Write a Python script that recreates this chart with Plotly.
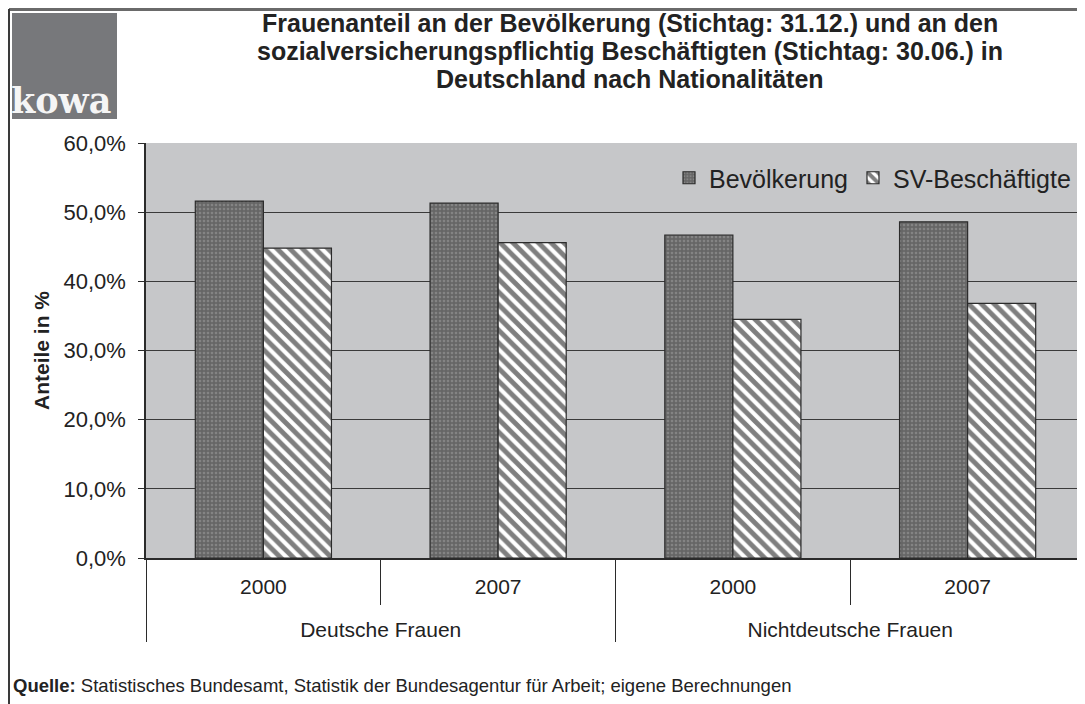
"""Frauenanteil an Bevölkerung und SV-Beschäftigten nach Nationalitäten."""

import plotly.graph_objects as go

# Daten
gruppen = ["Deutsche Frauen", "Deutsche Frauen", "Nichtdeutsche Frauen", "Nichtdeutsche Frauen"]
jahre = ["2000", "2007", "2000", "2007"]
bevoelkerung = [51.6, 51.3, 46.7, 48.6]
sv_beschaeftigte = [44.8, 45.6, 34.5, 36.8]

titel_zeilen = [
    "Frauenanteil an der Bevölkerung (Stichtag: 31.12.) und an den",
    "sozialversicherungspflichtig Beschäftigten (Stichtag: 30.06.) in",
    "Deutschland nach Nationalitäten",
]

# Seitengeometrie (Pixel); die Seite hat 8px Rand, daher 1077x696
OFFSET = 8
WIDTH, HEIGHT = 1085 - OFFSET, 704 - OFFSET
ML, MR, MT, MB = 138, 0, 135, 146
PW = WIDTH - ML - MR
PH = HEIGHT - MT - MB


def px_x(x):
    """Pixel im Bild -> paper-Koordinate."""
    return (x - OFFSET - ML) / PW


def px_y(y):
    return (HEIGHT - MB - (y - OFFSET)) / PH


# zweite Zeile leer, damit die Gruppenebene tiefer steht
jahre_labels = [j + "<br> " for j in jahre]

fig = go.Figure()

fig.add_trace(
    go.Bar(
        name="Bevölkerung",
        x=[gruppen, jahre_labels],
        y=bevoelkerung,
        marker=dict(
            color="#777777",
            line=dict(color="#2b2b2b", width=1.2),
            pattern=dict(
                shape=".",
                fgcolor="#a2a2a2",
                bgcolor="#666666",
                size=4,
                solidity=0.35,
            ),
        ),
    )
)

fig.add_trace(
    go.Bar(
        name="SV-Beschäftigte",
        x=[gruppen, jahre_labels],
        y=sv_beschaeftigte,
        marker=dict(
            color="white",
            line=dict(color="#2b2b2b", width=1.2),
            pattern=dict(
                shape="\\",
                fgcolor="black",
                bgcolor="white",
                size=9,
                solidity=0.55,
            ),
        ),
    )
)

# Rahmen oben und links
fig.add_shape(
    type="line", xref="paper", yref="paper",
    x0=px_x(9), x1=px_x(1085), y0=px_y(9.5), y1=px_y(9.5),
    line=dict(color="#6a6a6a", width=3),
)
fig.add_shape(
    type="line", xref="paper", yref="paper",
    x0=px_x(9), x1=px_x(9), y0=px_y(9), y1=px_y(704),
    line=dict(color="#3a3a3a", width=2),
)

# kowa Logo
fig.add_shape(
    type="rect", xref="paper", yref="paper",
    x0=px_x(12), x1=px_x(117), y0=px_y(119), y1=px_y(13),
    fillcolor="#77787b", line=dict(width=0), layer="above",
)
fig.add_annotation(
    text="<b>kowa</b>",
    xref="paper", yref="paper",
    x=px_x(9), y=px_y(123),
    xanchor="left", yanchor="bottom",
    showarrow=False,
    font=dict(family="DejaVu Serif", size=35, color="#f5f5f5"),
)

# Titel, Zeile für Zeile
for zeile, y_px in zip(titel_zeilen, [23, 51, 79]):
    fig.add_annotation(
        text=f"<b>{zeile}</b>",
        xref="paper", yref="paper",
        x=px_x(630), y=px_y(y_px),
        xanchor="center", yanchor="middle",
        showarrow=False,
        font=dict(size=25, color="#222222"),
    )

# Quelle
fig.add_annotation(
    text="<b>Quelle:</b> Statistisches Bundesamt, Statistik der Bundesagentur "
    "für Arbeit; eigene Berechnungen",
    xref="paper", yref="paper",
    x=px_x(11), y=px_y(685),
    xanchor="left", yanchor="middle",
    showarrow=False,
    font=dict(size=18.5, color="#222222"),
)

fig.update_layout(
    width=WIDTH,
    height=HEIGHT,
    margin=dict(l=ML, r=MR, t=MT, b=MB, pad=0),
    paper_bgcolor="white",
    plot_bgcolor="#c6c7c9",
    separators=",.",
    font=dict(family="Liberation Sans, Arial", color="#222222", size=21),
    barmode="group",
    bargap=0.42,
    bargroupgap=0,
    showlegend=True,
    legend=dict(
        orientation="h",
        x=px_x(1076),
        xanchor="right",
        y=px_y(178),
        yanchor="middle",
        bgcolor="rgba(0,0,0,0)",
        font=dict(size=25),
        itemwidth=30,
        tracegroupgap=0,
    ),
    xaxis=dict(
        type="multicategory",
        showline=True,
        linecolor="#2b2b2b",
        linewidth=1.5,
        ticks="outside",
        ticklen=45,
        tickcolor="#2b2b2b",
        ticklabelstandoff=9,
        showdividers=True,
        dividercolor="#2b2b2b",
        dividerwidth=1,
        showgrid=False,
        tickfont=dict(size=21),
    ),
    yaxis=dict(
        range=[0, 60],
        dtick=10,
        tickformat=".1f",
        ticksuffix="%",
        showgrid=True,
        gridcolor="#3a3a3a",
        gridwidth=1,
        zeroline=False,
        showline=True,
        linecolor="#2b2b2b",
        linewidth=1.5,
        ticks="outside",
        ticklen=6,
        tickcolor="#2b2b2b",
        ticklabelstandoff=8,
        tickfont=dict(size=22),
        title=dict(
            text="<b>Anteile in %</b>",
            font=dict(size=21),
            standoff=8,
        ),
    ),
)

fig.write_html("out.html")
